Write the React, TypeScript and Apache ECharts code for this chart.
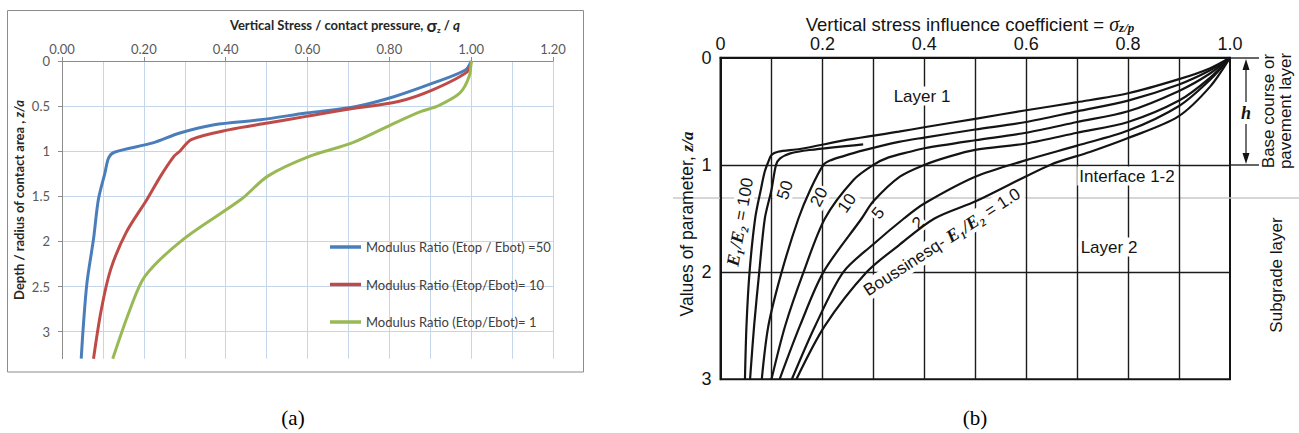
import React, { useEffect, useRef } from "react";
import * as echarts from "echarts";

type Pt = [number, number];

// ---------------- Panel (a): Excel-style chart ----------------
const xMaxA = 1.2;
const xStepA = 0.2;
const yMaxA = 3.3;
const yStepA = 0.5;
const legendNamesA = [
  "Modulus Ratio (Etop / Ebot) =50",
  "Modulus Ratio (Etop/Ebot)= 10",
  "Modulus Ratio (Etop/Ebot)= 1",
];
// [vertical stress / contact pressure, depth / radius]
const ratio50A: Pt[] = [
  [1.0, 0], [0.986, 0.099], [0.906, 0.246], [0.813, 0.393], [0.719, 0.504],
  [0.597, 0.577], [0.485, 0.651], [0.372, 0.706], [0.288, 0.798], [0.222, 0.908],
  [0.128, 1.011], [0.114, 1.074], [0.105, 1.239], [0.089, 1.533], [0.077, 1.974],
  [0.061, 2.459], [0.052, 2.944], [0.047, 3.3],
];
const ratio10A: Pt[] = [
  [1.0, 0], [0.991, 0.118], [0.906, 0.32], [0.822, 0.449], [0.691, 0.54],
  [0.597, 0.614], [0.503, 0.688], [0.41, 0.761], [0.316, 0.871], [0.288, 1.0],
  [0.274, 1.055], [0.241, 1.276], [0.208, 1.533], [0.157, 1.9], [0.119, 2.31],
  [0.096, 2.757], [0.077, 3.3],
];
const ratio1A: Pt[] = [
  [1.0, 0], [0.995, 0.173], [0.972, 0.357], [0.916, 0.504], [0.878, 0.559],
  [0.813, 0.688], [0.709, 0.908], [0.606, 1.055], [0.503, 1.276], [0.438, 1.533],
  [0.297, 1.974], [0.203, 2.384], [0.166, 2.757], [0.124, 3.3],
];
const colorsA = ["#4A7EBB", "#BE4B48", "#98B954"];

// ---------------- Panel (b): two-layer influence chart ----------------
const xMaxB = 1.0;
const xStepB = 0.1;
const yMaxB = 3;
const yStepB = 1;
const curve100B: Pt[] = [
  [1, 0], [0.96, 0.1], [0.9, 0.2], [0.8, 0.332], [0.7, 0.415], [0.6, 0.49],
  [0.5, 0.57], [0.4, 0.649], [0.35, 0.69], [0.25, 0.765], [0.156, 0.852],
  [0.113, 0.877], [0.1, 0.907], [0.094, 0.97], [0.087, 1.06], [0.079, 1.234],
  [0.068, 1.5], [0.057, 2.0], [0.051, 2.5], [0.048, 3.0],
];
const curve50B: Pt[] = [
  [0.28, 0.808], [0.175, 0.861], [0.137, 0.892], [0.117, 0.939], [0.109, 1.0],
  [0.1, 1.234], [0.087, 1.5], [0.076, 2.0], [0.066, 2.5], [0.058, 3.0],
];
const curve20B: Pt[] = [
  [1, 0], [0.96, 0.12], [0.9, 0.25], [0.8, 0.4], [0.7, 0.5], [0.6, 0.6],
  [0.5, 0.67], [0.4, 0.745], [0.35, 0.785], [0.28, 0.865], [0.24, 0.92],
  [0.215, 0.96], [0.202, 1.0], [0.176, 1.234], [0.153, 1.5], [0.12, 2.0],
  [0.094, 2.5], [0.081, 3.0],
];
const curve10B: Pt[] = [
  [1, 0], [0.96, 0.15], [0.9, 0.31], [0.8, 0.5], [0.7, 0.6], [0.6, 0.7],
  [0.5, 0.77], [0.4, 0.845], [0.372, 0.877], [0.33, 0.93], [0.3, 1.0],
  [0.261, 1.141], [0.205, 1.5], [0.163, 2.0], [0.127, 2.5], [0.1, 3.0],
];
const curve5B: Pt[] = [
  [1, 0], [0.96, 0.19], [0.9, 0.4], [0.8, 0.6], [0.7, 0.7], [0.6, 0.8],
  [0.5, 0.86], [0.45, 0.92], [0.4, 1.0], [0.352, 1.11], [0.3, 1.34],
  [0.277, 1.5], [0.202, 2.0], [0.156, 2.5], [0.116, 3.0],
];
const curve2B: Pt[] = [
  [1, 0], [0.96, 0.21], [0.9, 0.45], [0.8, 0.68], [0.7, 0.82], [0.6, 0.955],
  [0.5, 1.11], [0.4, 1.36], [0.36, 1.5], [0.3, 1.74], [0.241, 2.0],
  [0.186, 2.5], [0.14, 3.0],
];
const curve1B: Pt[] = [
  [1, 0], [0.961, 0.27], [0.898, 0.55], [0.8, 0.75], [0.725, 0.88],
  [0.647, 1.0], [0.503, 1.335], [0.42, 1.5], [0.35, 1.75], [0.287, 2.0],
  [0.205, 2.5], [0.149, 3.0],
];
const curvesB = [curve100B, curve50B, curve20B, curve10B, curve5B, curve2B, curve1B];
const curveNamesB = ["100", "50", "20", "10", "5", "2", "1.0"];

const SANS_A = "Lato, 'Open Sans', sans-serif";
const SANS_B = "'Liberation Sans', Arial, sans-serif";
const SERIF = "'Liberation Serif', 'DejaVu Serif', serif";
const INK = "#141414";

function label(
  x: number,
  y: number,
  text: string,
  opts: { rotation?: number; size?: number; bg?: boolean; rich?: any; font?: string; italic?: boolean; bold?: boolean; fill?: string } = {}
): any {
  return {
    type: "text",
    x,
    y,
    rotation: ((opts.rotation || 0) * Math.PI) / 180,
    z: 1,
    silent: true,
    style: {
      text,
      fill: opts.fill || INK,
      fontSize: opts.size || 17,
      fontFamily: opts.font || SANS_B,
      fontStyle: opts.italic ? "italic" : "normal",
      fontWeight: opts.bold ? "bold" : "normal",
      align: "center",
      verticalAlign: "middle",
      backgroundColor: opts.bg ? "#ffffff" : undefined,
      padding: opts.bg ? [1, 2, 1, 2] : 0,
      rich: opts.rich,
    },
  };
}

function buildOption(): any {
  const richE = {
    e: { fontFamily: SERIF, fontStyle: "italic", fontWeight: "bold", fontSize: 18, fill: INK },
    n: { fontFamily: SANS_B, fontSize: 17, fill: INK },
  };
  const graphic: any[] = [
    // frame of panel (a)
    {
      type: "rect",
      z: 0,
      silent: true,
      shape: { x: 7.5, y: 10.5, width: 576, height: 361.5 },
      style: { fill: "none", stroke: "#8C8C8C", lineWidth: 1 },
    },
    // title (a)
    label(345, 25, "{t|Vertical Stress / contact pressure, }{s|σ}{z|z}{t| / }{q|q}", {
      rich: {
        t: { fontFamily: SANS_A, fontWeight: "bold", fontSize: 13, fill: "#262626" },
        s: { fontFamily: SANS_A, fontWeight: "bold", fontSize: 17, fill: "#262626" },
        z: { fontFamily: SANS_A, fontWeight: "bold", fontSize: 8, fill: "#262626", verticalAlign: "bottom" },
        q: { fontFamily: SANS_A, fontWeight: "bold", fontStyle: "italic", fontSize: 13.5, fill: "#262626" },
      },
    }),
    // y title (a)
    label(19, 200, "{t|Depth / radius of contact area , }{i|z/a}", {
      rotation: 90,
      rich: {
        t: { fontFamily: SANS_A, fontWeight: "bold", fontSize: 13, fill: "#262626" },
        i: { fontFamily: SANS_A, fontWeight: "bold", fontStyle: "italic", fontSize: 13, fill: "#262626" },
      },
    }),
    // captions
    label(293, 418, "(a)", { font: SERIF, size: 21, fill: "#000" }),
    label(975, 418, "(b)", { font: SERIF, size: 21, fill: "#000" }),
    // scan line across panel (b)
    {
      type: "line",
      silent: true,
      z: 0,
      shape: { x1: 673, y1: 198, x2: 1299, y2: 198 },
      style: { stroke: "#c9c9c9", lineWidth: 1.5 },
    },
    // title (b)
    label(970, 24, "{t|Vertical stress influence coefficient = }{s|σ}{z|z/p}", {
      rich: {
        t: { fontFamily: SANS_B, fontSize: 18.5, fill: INK },
        s: { fontFamily: SERIF, fontStyle: "italic", fontSize: 20, fill: INK },
        z: { fontFamily: SERIF, fontStyle: "italic", fontWeight: "bold", fontSize: 13, fill: INK, verticalAlign: "bottom" },
      },
    }),
    // y title (b)
    label(687, 224, "{t|Values of parameter, }{i|z/a}", {
      rotation: 90,
      rich: {
        t: { fontFamily: SANS_B, fontSize: 17.5, fill: INK },
        i: { fontFamily: SERIF, fontStyle: "italic", fontWeight: "bold", fontSize: 17, fill: INK },
      },
    }),
    // area labels (b)
    label(922, 96, "Layer 1", { bg: true }),
    label(1127, 176, "Interface 1-2", { bg: true }),
    label(1109, 247, "Layer 2", { bg: true }),
    // curve labels (b)
    label(740, 222, "{e|E₁/E₂}{n| = 100}", { rotation: 80, bg: true, rich: richE }),
    label(785, 190, "50", { rotation: 72, bg: true }),
    label(819, 197, "20", { rotation: 62, bg: true }),
    label(847, 203, "10", { rotation: 55, bg: true }),
    label(878, 213, "5", { rotation: 50, bg: true }),
    label(918, 223, "2", { rotation: 42, bg: true }),
    label(942, 242, "{n|Boussinesq- }{e|E₁/E₂}{n| = 1.0}", { rotation: 33, bg: true, rich: richE }),
    // thickness bracket (b)
    { type: "line", silent: true, shape: { x1: 1231, y1: 58, x2: 1259, y2: 58 }, style: { stroke: INK, lineWidth: 1.3 } },
    { type: "line", silent: true, shape: { x1: 1231, y1: 165, x2: 1259, y2: 165 }, style: { stroke: INK, lineWidth: 1.3 } },
    { type: "line", silent: true, shape: { x1: 1246, y1: 66, x2: 1246, y2: 102 }, style: { stroke: INK, lineWidth: 1.2 } },
    { type: "line", silent: true, shape: { x1: 1246, y1: 124, x2: 1246, y2: 157 }, style: { stroke: INK, lineWidth: 1.2 } },
    { type: "polygon", silent: true, shape: { points: [[1246, 59], [1242.5, 70], [1249.5, 70]] }, style: { fill: INK } },
    { type: "polygon", silent: true, shape: { points: [[1246, 164], [1242.5, 153], [1249.5, 153]] }, style: { fill: INK } },
    label(1246, 113, "h", { font: SERIF, italic: true, bold: true, size: 18 }),
    label(1268, 111, "Base course or", { rotation: 90 }),
    label(1285, 111, "pavement layer", { rotation: 90 }),
    label(1276, 275, "Subgrade layer", { rotation: 90 }),
  ];

  const seriesA = [ratio50A, ratio10A, ratio1A].map((d, i) => ({
    name: legendNamesA[i],
    type: "line",
    xAxisIndex: 0,
    yAxisIndex: 0,
    data: d,
    smooth: 0.3,
    showSymbol: false,
    symbol: "none",
    lineStyle: { color: colorsA[i], width: 3 },
    itemStyle: { color: colorsA[i] },
    silent: true,
  }));
  const seriesB = curvesB.map((d, i) => ({
    name: "E1/E2 = " + curveNamesB[i],
    type: "line",
    xAxisIndex: 1,
    yAxisIndex: 1,
    data: d,
    smooth: 0.3,
    showSymbol: false,
    symbol: "none",
    lineStyle: { color: INK, width: 2.2 },
    itemStyle: { color: INK },
    silent: true,
  }));

  const gridLineA = { color: "#C5D5EA", width: 1 };
  const gridLineB = { color: "#1c1c1c", width: 1.4 };

  return {
    animation: false,
    backgroundColor: "#ffffff",
    grid: [
      { left: 62, top: 61, width: 491, height: 297.7 },
      { left: 720.5, top: 57.7, width: 509.5, height: 321.6, show: true, borderColor: INK, borderWidth: 2, backgroundColor: "transparent" },
    ],
    legend: {
      data: legendNamesA,
      orient: "vertical",
      left: 325,
      top: 234,
      itemWidth: 31,
      itemHeight: 3.5,
      itemGap: 21.5,
      icon: "rect",
      selectedMode: false,
      textStyle: { fontSize: 13, color: "#404040", fontFamily: SANS_A, lineHeight: 16 },
    },
    xAxis: [
      {
        gridIndex: 0,
        type: "value",
        position: "top",
        min: 0,
        max: xMaxA,
        interval: xStepA,
        axisLine: { show: true, onZero: false, lineStyle: { color: "#8C8C8C", width: 1 } },
        axisTick: { show: true, length: 4, lineStyle: { color: "#8C8C8C" } },
        axisLabel: { formatter: (v: number) => v.toFixed(2), color: "#595959", fontSize: 13, fontFamily: SANS_A, margin: 6 },
        splitLine: { show: true, lineStyle: gridLineA },
        minorTick: { show: false, splitNumber: 2 },
        minorSplitLine: { show: true, lineStyle: gridLineA },
      },
      {
        gridIndex: 1,
        type: "value",
        position: "top",
        min: 0,
        max: xMaxB,
        interval: xStepB,
        axisLine: { show: true, onZero: false, lineStyle: { color: INK, width: 2 } },
        axisTick: { show: false },
        axisLabel: {
          formatter: (v: number) => {
            const k = Math.round(v * 10);
            if (k % 2 !== 0) return "";
            return k === 0 ? "0" : (k / 10).toFixed(1);
          },
          color: INK,
          fontSize: 18,
          fontFamily: SANS_B,
          margin: 5,
        },
        splitLine: { show: true, showMinLine: false, showMaxLine: false, lineStyle: gridLineB },
      },
    ],
    yAxis: [
      {
        gridIndex: 0,
        type: "value",
        inverse: true,
        min: 0,
        max: yMaxA,
        interval: yStepA,
        axisLine: { show: true, onZero: false, lineStyle: { color: "#8C8C8C", width: 1 } },
        axisTick: { show: true, length: 4, lineStyle: { color: "#8C8C8C" } },
        axisLabel: { color: "#595959", fontSize: 13, fontFamily: SANS_A, margin: 12, showMaxLabel: false, formatter: (v: number) => (Math.abs(v - yMaxA) < 1e-6 ? "" : String(v)) },
        splitLine: { show: true, showMaxLine: false, lineStyle: gridLineA },
      },
      {
        gridIndex: 1,
        type: "value",
        inverse: true,
        min: 0,
        max: yMaxB,
        interval: yStepB,
        axisLine: { show: true, onZero: false, lineStyle: { color: INK, width: 2 } },
        axisTick: { show: false },
        axisLabel: { color: INK, fontSize: 18, fontFamily: SANS_B, margin: 9 },
        splitLine: { show: true, showMinLine: false, showMaxLine: false, lineStyle: gridLineB },
      },
    ],
    series: [...seriesA, ...seriesB],
    graphic,
  };
}

export default function App() {
  const ref = useRef<HTMLDivElement>(null);
  useEffect(() => {
    if (!ref.current) return;
    const chart = echarts.init(ref.current, undefined, { renderer: "svg" });
    chart.setOption(buildOption());
    return () => chart.dispose();
  }, []);
  return (
    <div
      ref={ref}
      style={{ position: "absolute", left: 0, top: 0, width: 1299, height: 433, background: "#fff" }}
    />
  );
}
